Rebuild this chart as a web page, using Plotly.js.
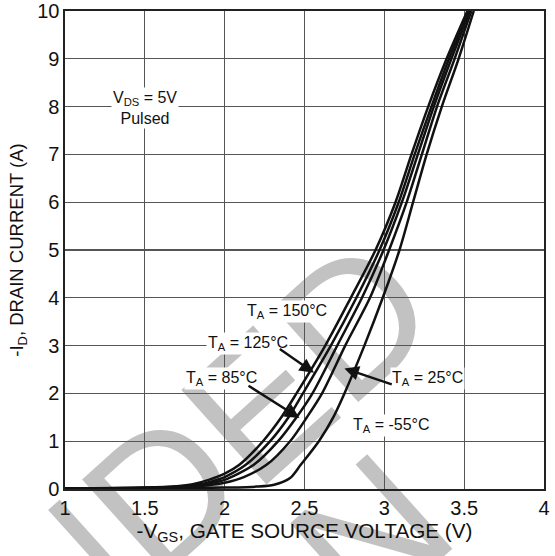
<!DOCTYPE html>
<html>
<head>
<meta charset="utf-8">
<script src="https://cdn.plot.ly/plotly-3.0.1.min.js"></script>
<style>html,body{margin:0;padding:0;background:#fff;}#chart{width:555px;height:556px;}</style>
</head>
<body>
<div id="chart"></div>
<script>
// -V_GS (V) and -I_D (A), one pair of arrays per temperature
const vgs150 = [1.0,1.5,1.7,1.8,1.9,2.0,2.09,2.24,2.355,2.45,2.63,2.79,2.945,3.07,3.17,3.275,3.39,3.52];
const id150  = [0.01,0.03,0.06,0.1,0.19,0.32,0.5,1,1.5,2,3,4,5,6,7,8,9,10];
const vgs125 = [1.0,1.5,1.7,1.85,1.95,2.0,2.13,2.285,2.40,2.49,2.665,2.825,2.97,3.09,3.19,3.295,3.405,3.53];
const id125  = [0.01,0.025,0.05,0.1,0.19,0.25,0.5,1,1.5,2,3,4,5,6,7,8,9,10];
const vgs85  = [1.0,1.5,1.7,1.88,1.95,2.0,2.18,2.335,2.45,2.55,2.705,2.86,2.995,3.11,3.21,3.31,3.42,3.535];
const id85   = [0.01,0.02,0.04,0.1,0.15,0.19,0.5,1,1.5,2,3,4,5,6,7,8,9,10];
const vgs25  = [1.0,1.5,1.7,1.9,2.0,2.12,2.26,2.41,2.515,2.61,2.755,2.91,3.03,3.14,3.235,3.33,3.44,3.545];
const id25   = [0.01,0.02,0.03,0.08,0.13,0.25,0.5,1,1.5,2,3,4,5,6,7,8,9,10];
const vgsM55 = [1.0,1.5,2.0,2.2,2.31,2.41,2.475,2.59,2.68,2.75,2.875,2.99,3.095,3.18,3.265,3.36,3.465,3.56];
const idM55  = [0.01,0.01,0.03,0.05,0.09,0.23,0.5,1,1.5,2,3,4,5,6,7,8,9,10];

const seriesNames = ["T_A = 150°C","T_A = 125°C","T_A = 85°C","T_A = 25°C","T_A = -55°C"];
const labelTexts = ["T<sub>A</sub> = 150°C","T<sub>A</sub> = 125°C","T<sub>A</sub> = 85°C","T<sub>A</sub> = 25°C","T<sub>A</sub> = -55°C"];
const conditionText = "V<sub>DS</sub> = 5V<br>Pulsed";
const xTitle = "-V<sub>GS</sub>, GATE SOURCE VOLTAGE (V)";
const yTitle = "-I<sub>D</sub>, DRAIN CURRENT (A)";
const watermarkLines = ["NOT RECOMMENDED","FOR NEW DESIGN"];

const FONT = "'Liberation Sans', Arial, Helvetica, sans-serif";
const xs = [vgs150, vgs125, vgs85, vgs25, vgsM55];
const ys = [id150, id125, id85, id25, idM55];

const traces = xs.map((x, i) => ({
  x: x, y: ys[i], name: seriesNames[i], type: 'scatter', mode: 'lines',
  line: {color: '#111', width: 2.5, shape: 'spline', smoothing: 0.8},
  hoverinfo: 'skip', showlegend: false, cliponaxis: true
}));

function label(text, x, y) {
  return {x: x, y: y, xref: 'x', yref: 'y', text: text, showarrow: false,
    font: {family: FONT, size: 16, color: '#111'}, bgcolor: '#fff', borderpad: 1};
}
function arrow(x0, y0, x1, y1) {
  return {x: x1, y: y1, ax: x0, ay: y0, xref: 'x', yref: 'y', axref: 'x', ayref: 'y',
    text: '', showarrow: true, arrowhead: 2, arrowsize: 1.2, arrowwidth: 2.4, arrowcolor: '#111', standoff: 0};
}

const annotations = [
  label(conditionText, 1.5, 7.98),
  label(labelTexts[0], 2.39, 3.71),
  label(labelTexts[1], 2.147, 3.05),
  label(labelTexts[2], 1.98, 2.32),
  label(labelTexts[3], 3.27, 2.32),
  label(labelTexts[4], 3.046, 1.32),
  arrow(2.336, 2.95, 2.56, 2.43),
  arrow(2.14, 2.18, 2.468, 1.485),
  arrow(3.056, 2.18, 2.75, 2.52)
];

// watermark lines (paper coords), drawn below grid and curves
function wm(text, cx, cy) {
  return {type: 'rect', xref: 'paper', yref: 'paper', x0: cx - 0.01, x1: cx + 0.01, y0: cy - 0.01, y1: cy + 0.01,
    layer: 'below', line: {width: 0}, fillcolor: 'rgba(0,0,0,0)',
    label: {text: text, textangle: -42, textposition: 'middle center',
      font: {family: FONT, size: 185, color: '#c2c2c2'}}};
}
const shapes = [
  wm(watermarkLines[0], -0.815, -0.875),
  wm(watermarkLines[1], -0.55, -1.12)
];

const axisCommon = {
  showgrid: true, gridcolor: '#555', gridwidth: 1.3, zeroline: false,
  showline: true, linecolor: '#222', linewidth: 1.6, mirror: true, ticks: '',
  tickfont: {family: FONT, size: 20, color: '#111'}, fixedrange: true
};

const layout = {
  width: 555, height: 556,
  margin: {l: 64.5, r: 10.5, t: 10.5, b: 66.7, pad: 0},
  paper_bgcolor: '#fff', plot_bgcolor: 'rgba(0,0,0,0)',
  xaxis: Object.assign({}, axisCommon, {range: [1, 4], tick0: 1, dtick: 0.5,
    title: {text: xTitle, font: {family: FONT, size: 20.7, color: '#111'}, standoff: 5}}),
  yaxis: Object.assign({}, axisCommon, {range: [0, 10], tick0: 0, dtick: 1,
    title: {text: yTitle, font: {family: FONT, size: 18.5, color: '#111'}, standoff: 8}}),
  annotations: annotations,
  shapes: shapes,
  showlegend: false
};

Plotly.newPlot('chart', traces, layout, {staticPlot: true, displayModeBar: false});
</script>
</body>
</html>
